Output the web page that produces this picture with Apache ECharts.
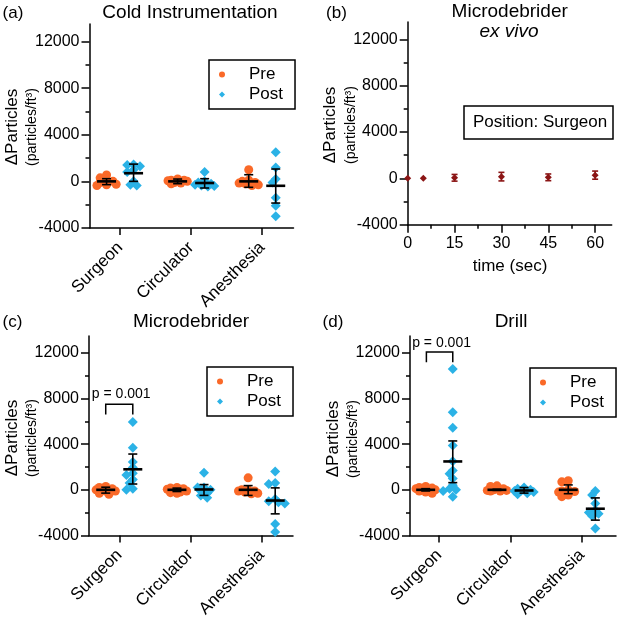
<!DOCTYPE html>
<html><head><meta charset="utf-8">
<script src="https://cdn.jsdelivr.net/npm/echarts@6/dist/echarts.min.js"></script>
<style>html,body{margin:0;padding:0;background:#fff}#c{width:625px;height:620px}</style>
</head><body><div id="c"></div>
<script>
// ---------- DATA ----------
const groups = ['Surgeon', 'Circulator', 'Anesthesia'];
const yTicks = [-4000, 0, 4000, 8000, 12000];
const yMinorTicks = [-2000, 2000, 6000, 10000];
const timeTicks = [0, 15, 30, 45, 60];
const timeMinorTicks = [7.5, 22.5, 37.5, 52.5];

// (a) Cold Instrumentation
const coldPre = [
  [550, 300, 100, 0, -100, -250, -350, -300],
  [-200, -100, 0, 100, 200, -150, 50, 100],
  [1000, -100, -200, -300, -350, 100, -150, 0]
];
const coldPost = [
  [1450, 1400, 1300, 1000, 800, 0, -300, -350],
  [800, -200, -300, -400, -450, -100, 0, -350],
  [2500, 1200, 200, -100, -1400, -2100, -3000]
];
const coldPreMean = [0, 0, 0];
const coldPreLo = [-280, -200, -510];
const coldPreHi = [230, 200, 570];
const coldPostMean = [700, -140, -380];
const coldPostLo = [0, -570, -1860];
const coldPostHi = [1480, 230, 1060];

// (b) Microdebrider ex vivo, surgeon position
const exTime = [0, 5, 15, 30, 45, 60];
const exMean = [0, 0, 50, 150, 90, 280];
const exErr = [0, 0, 290, 370, 290, 350];

// (c) Microdebrider
const microPre = [
  [300, 200, 0, -100, -300, -400, 100, -100],
  [-300, -250, 0, 100, 150, -100, 50, 200, -200],
  [1050, 0, -200, -300, -350, -100, -100, 0]
];
const microPost = [
  [5950, 3700, 2450, 1950, 1450, 1300, 900, 600, 0, 100],
  [1500, 200, 0, -100, -300, -500, -700, 200],
  [1600, 600, 500, -800, -1000, -1100, -1200, -3000, -3700]
];
const microPreMean = [0, 0, 0];
const microPreLo = [-290, -150, -490];
const microPreHi = [230, 150, 370];
const microPostMean = [1800, 30, -940];
const microPostLo = [510, -490, -2110];
const microPostHi = [3140, 460, 170];
const microBracket = [0.81, 1.19, 7500, 6600, 8400];

// (d) Drill
const drillPre = [
  [300, 200, 100, 50, 0, -50, -100, -200, -300, 150],
  [350, 300, 100, 0, -50, -100, -50, -100],
  [800, 700, 0, -100, -200, -600, -150, -450]
];
const drillPost = [
  [10600, 6800, 5450, 3900, 2500, 1700, 1400, 1000, 400, 100, 0, -100, -600],
  [200, 100, -100, -200, -300, -400, 0, -100],
  [-100, -450, -1200, -1800, -2000, -2100, -2300, -3400]
];
const drillPreMean = [0, 0, 0];
const drillPreLo = [-100, -50, -340];
const drillPreHi = [100, 50, 430];
const drillPostMean = [2490, -60, -1660];
const drillPostLo = [630, -290, -2660];
const drillPostHi = [4290, 200, -710];
const drillBracket = [0.82, 1.19, 12100, 11200, 12850];

// ---------- STYLE ----------
const FONT = 'Liberation Sans, Arial, Helvetica, sans-serif';
const ORANGE = '#FA6928', BLUE = '#2BB2E6', DARKRED = '#8B1515';
const PRE_OFF = -0.19, POST_OFF = 0.19;

// beeswarm-like horizontal spreading of overlapping points (layout only)
function swarm(vals, cx) {
  const pxY = 204 / 17500, pxX = 71, d = 4.5, step = 3.2;
  const order = vals.map((v, i) => i).sort((a, b) => vals[b] - vals[a]);
  const placed = [], out = [];
  const cands = [0];
  for (let j = 1; j <= 3; j++) cands.push(-j * step, j * step);
  order.forEach(i => {
    const yp = vals[i] * pxY;
    let xp = null, best = -1, bestC = 0;
    for (const c of cands) {
      const md = placed.reduce((m, p) => Math.min(m, Math.hypot(p[0] - c, p[1] - yp)), 1e9);
      if (md >= d) { xp = c; break; }
      if (md > best) { best = md; bestC = c; }
    }
    if (xp === null) xp = bestC;
    placed.push([xp, yp]);
    out.push([cx + xp / pxX, vals[i]]);
  });
  return out;
}

function scatterSeries(name, groupsVals, off, xi, yi, symbol, size, color) {
  let data = [];
  groupsVals.forEach((vals, k) => { data = data.concat(swarm(vals, k + 1 + off)); });
  return { type: 'scatter', name, xAxisIndex: xi, yAxisIndex: yi, data, symbol, symbolSize: size,
    itemStyle: { color, opacity: 1 }, z: 2, silent: true, clip: false };
}

function summarySeries(name, off, xi, yi, means, los, his) {
  return { type: 'custom', name, xAxisIndex: xi, yAxisIndex: yi, z: 5, silent: true,
    encode: { x: 0, y: 1 },
    data: means.map((m, k) => [k + 1 + off, m, los[k], his[k]]),
    renderItem(params, api) {
      const x = api.value(0);
      const pm = api.coord([x, api.value(1)]);
      const pl = api.coord([x, api.value(2)]);
      const ph = api.coord([x, api.value(3)]);
      const ls = { stroke: '#000', lineWidth: 1.6 };
      return { type: 'group', children: [
        { type: 'line', shape: { x1: pl[0], y1: pl[1], x2: ph[0], y2: ph[1] }, style: ls },
        { type: 'line', shape: { x1: pl[0] - 4.5, y1: pl[1], x2: pl[0] + 4.5, y2: pl[1] }, style: ls },
        { type: 'line', shape: { x1: ph[0] - 4.5, y1: ph[1], x2: ph[0] + 4.5, y2: ph[1] }, style: ls },
        { type: 'line', shape: { x1: pm[0] - 9.5, y1: pm[1], x2: pm[0] + 9.5, y2: pm[1] }, style: { stroke: '#000', lineWidth: 2.6 } }
      ] };
    } };
}

function bracketSeries(xi, yi, br) {
  return { type: 'custom', xAxisIndex: xi, yAxisIndex: yi, z: 6, silent: true,
    encode: { x: 0, y: 2 },
    data: [br],
    renderItem(params, api) {
      const a = api.coord([api.value(0), api.value(3)]);
      const b = api.coord([api.value(0), api.value(2)]);
      const c = api.coord([api.value(1), api.value(2)]);
      const d = api.coord([api.value(1), api.value(3)]);
      const t = api.coord([(api.value(0) + api.value(1)) / 2, api.value(4)]);
      return { type: 'group', children: [
        { type: 'polyline', shape: { points: [a, b, c, d] }, style: { stroke: '#000', lineWidth: 1.5, fill: null } },
        { type: 'text', x: t[0] + 2, y: t[1], style: { text: 'p = 0.001', fontSize: 14, fontFamily: FONT, fill: '#000', align: 'center', verticalAlign: 'middle' } }
      ] };
    } };
}

function yAxes(gi) {
  return [
    { type: 'value', gridIndex: gi, min: -4000, max: 13500, position: 'left',
      axisLine: { show: true, onZero: false, lineStyle: { color: '#000', width: 1.5 } },
      axisTick: { show: true, length: 8, customValues: yTicks, lineStyle: { color: '#000', width: 1.5 } },
      axisLabel: { show: true, customValues: yTicks, color: '#000', fontSize: 16, fontFamily: FONT, margin: 10, formatter: v => String(v) },
      splitLine: { show: false } },
    { type: 'value', gridIndex: gi, min: -4000, max: 13500, position: 'left',
      axisLine: { show: false, onZero: false },
      axisTick: { show: true, length: 4, customValues: yMinorTicks, lineStyle: { color: '#000', width: 1.5 } },
      axisLabel: { show: false }, splitLine: { show: false } }
  ];
}

function catXAxis(gi, min, max) {
  return { type: 'value', gridIndex: gi, min, max, position: 'bottom',
    axisLine: { show: true, onZero: false, lineStyle: { color: '#000', width: 1.5 } },
    axisTick: { show: true, length: 7, customValues: [1, 2, 3], lineStyle: { color: '#000', width: 1.5 } },
    axisLabel: { show: true, customValues: [1, 2, 3], rotate: 45, color: '#000', fontSize: 17, fontFamily: FONT, margin: 17,
      formatter: v => groups[Math.round(v) - 1] },
    splitLine: { show: false } };
}

function legendBox(left, top) {
  return { left, top, orient: 'vertical', selectedMode: false,
    data: [{ name: 'Pre', icon: 'circle' }, { name: 'Post', icon: 'diamond' }],
    itemWidth: 6, itemHeight: 6, itemGap: 3,
    padding: [6, 12, 6, 10], borderColor: '#000', borderWidth: 1.5, backgroundColor: '#fff',
    textStyle: { color: '#000', fontSize: 17, fontFamily: FONT, padding: [0, 0, 0, 19] } };
}

function txt(text, x, y, size, extra) {
  return Object.assign({ type: 'text', x, y, silent: true,
    style: Object.assign({ text, fontSize: size, fontFamily: FONT, fill: '#000', align: 'center', verticalAlign: 'middle' }, extra || {}) });
}
function vtxt(text, x, y, size) {
  const t = txt(text, x, y, size); t.rotation = Math.PI / 2; return t;
}

const chart = echarts.init(document.getElementById('c'), null, { renderer: 'canvas' });
chart.setOption({
  animation: false,
  backgroundColor: '#fff',
  textStyle: { fontFamily: FONT },
  grid: [
    { left: 89.5, top: 24, width: 204, height: 204, containLabel: false },
    { left: 407.7, top: 22, width: 204, height: 202.7, containLabel: false },
    { left: 89, top: 336, width: 204, height: 203.3, containLabel: false },
    { left: 410, top: 336, width: 206, height: 204, containLabel: false }
  ],
  xAxis: [
    catXAxis(0, 0.57, 3.44),
    { type: 'value', gridIndex: 1, min: 0, max: 65.3, position: 'bottom',
      axisLine: { show: true, onZero: false, lineStyle: { color: '#000', width: 1.5 } },
      axisTick: { show: true, length: 8, customValues: timeTicks, lineStyle: { color: '#000', width: 1.5 } },
      axisLabel: { show: true, customValues: timeTicks, color: '#000', fontSize: 16, fontFamily: FONT, margin: 11 },
      splitLine: { show: false } },
    { type: 'value', gridIndex: 1, min: 0, max: 65.3, position: 'bottom',
      axisLine: { show: false, onZero: false },
      axisTick: { show: true, length: 4, customValues: timeMinorTicks, lineStyle: { color: '#000', width: 1.5 } },
      axisLabel: { show: false }, splitLine: { show: false } },
    catXAxis(2, 0.575, 3.44),
    catXAxis(3, 0.59, 3.48)
  ],
  yAxis: [].concat(yAxes(0), yAxes(1), yAxes(2), yAxes(3)),
  legend: [legendBox(209, 60), legendBox(207, 367), legendBox(530, 368)],
  title: [{ text: 'Position: Surgeon', left: 464, top: 106, padding: [8, 6, 8, 9],
    borderColor: '#000', borderWidth: 1.5,
    textStyle: { fontSize: 17, fontWeight: 'normal', color: '#000', fontFamily: FONT } }],
  series: [
    // (a)
    scatterSeries('Pre', coldPre, PRE_OFF, 0, 0, 'circle', 9, ORANGE),
    scatterSeries('Post', coldPost, POST_OFF, 0, 0, 'diamond', 10, BLUE),
    summarySeries('Pre', PRE_OFF, 0, 0, coldPreMean, coldPreLo, coldPreHi),
    summarySeries('Post', POST_OFF, 0, 0, coldPostMean, coldPostLo, coldPostHi),
    // (b)
    { type: 'custom', xAxisIndex: 1, yAxisIndex: 2, z: 3, silent: true, encode: { x: 0, y: 1 },
      data: exTime.map((t, i) => [t, exMean[i], exMean[i] - exErr[i], exMean[i] + exErr[i]]),
      renderItem(params, api) {
        const x = api.value(0);
        if (api.value(3) - api.value(2) <= 0) return { type: 'group', children: [] };
        const pl = api.coord([x, api.value(2)]);
        const ph = api.coord([x, api.value(3)]);
        const ls = { stroke: DARKRED, lineWidth: 1.6 };
        return { type: 'group', children: [
          { type: 'line', shape: { x1: pl[0], y1: pl[1], x2: ph[0], y2: ph[1] }, style: ls },
          { type: 'line', shape: { x1: pl[0] - 3, y1: pl[1], x2: pl[0] + 3, y2: pl[1] }, style: ls },
          { type: 'line', shape: { x1: ph[0] - 3, y1: ph[1], x2: ph[0] + 3, y2: ph[1] }, style: ls }
        ] };
      } },
    { type: 'scatter', name: 'exvivo', xAxisIndex: 1, yAxisIndex: 2, z: 4, silent: true, clip: false,
      data: exTime.map((t, i) => [t, exMean[i]]), symbol: 'diamond', symbolSize: 7,
      itemStyle: { color: DARKRED, opacity: 1 } },
    // (c)
    scatterSeries('Pre', microPre, PRE_OFF, 3, 4, 'circle', 9, ORANGE),
    scatterSeries('Post', microPost, POST_OFF, 3, 4, 'diamond', 10, BLUE),
    summarySeries('Pre', PRE_OFF, 3, 4, microPreMean, microPreLo, microPreHi),
    summarySeries('Post', POST_OFF, 3, 4, microPostMean, microPostLo, microPostHi),
    bracketSeries(3, 4, microBracket),
    // (d)
    scatterSeries('Pre', drillPre, PRE_OFF, 4, 6, 'circle', 9, ORANGE),
    scatterSeries('Post', drillPost, POST_OFF, 4, 6, 'diamond', 10, BLUE),
    summarySeries('Pre', PRE_OFF, 4, 6, drillPreMean, drillPreLo, drillPreHi),
    summarySeries('Post', POST_OFF, 4, 6, drillPostMean, drillPostLo, drillPostHi),
    bracketSeries(4, 6, drillBracket)
  ],
  graphic: [
    txt('(a)', 13, 13, 17),
    txt('Cold Instrumentation', 190, 13, 19),
    txt('(b)', 336.5, 13, 17),
    txt('Microdebrider', 509.7, 12, 19),
    txt('ex vivo', 509, 32, 19, { fontStyle: 'italic' }),
    txt('(c)', 12.5, 322, 17),
    txt('Microdebrider', 191, 322, 19),
    txt('(d)', 333, 322, 17),
    txt('Drill', 511, 322, 19),
    txt('time (sec)', 510, 266.5, 17),
    vtxt('ΔParticles', 12.5, 127, 17),
    vtxt('(particles/ft³)', 32.5, 127, 14),
    vtxt('ΔParticles', 330.7, 125, 17),
    vtxt('(particles/ft³)', 350.7, 125, 14),
    vtxt('ΔParticles', 12, 438, 17),
    vtxt('(particles/ft³)', 32, 438, 14),
    vtxt('ΔParticles', 333, 439, 17),
    vtxt('(particles/ft³)', 353, 439, 14)
  ]
});
</script>
</body></html>
